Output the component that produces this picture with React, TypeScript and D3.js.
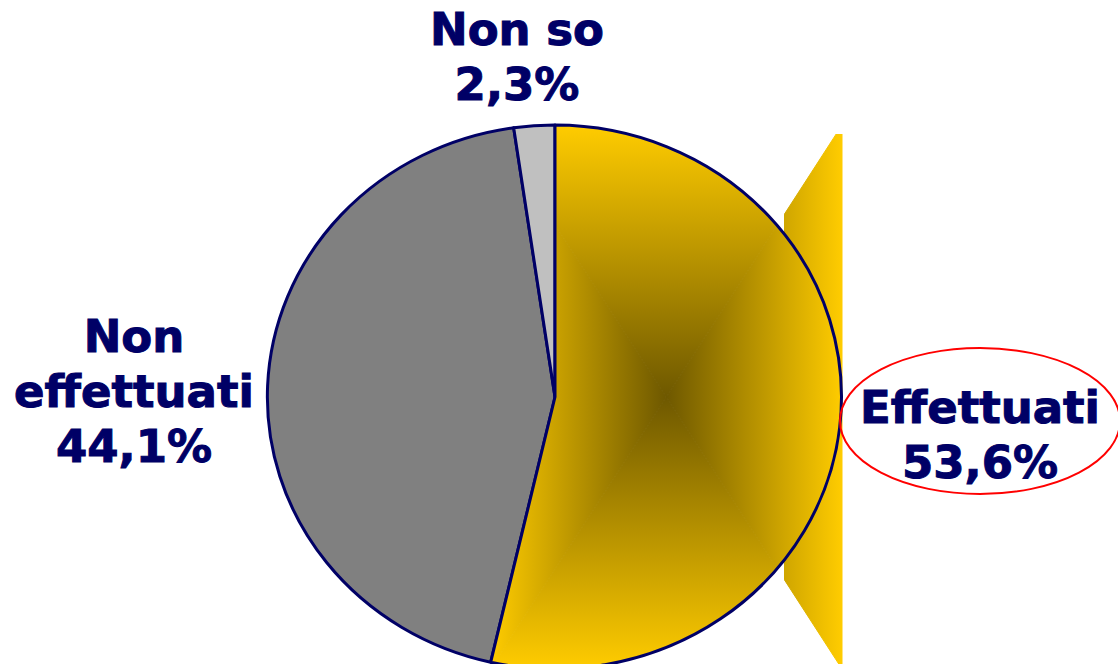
import * as d3 from "d3";

const labels = ["Effettuati", "Non effettuati", "Non so"];
const values = [53.6, 44.1, 2.3];
const colors = ["#FFCC00", "#808080", "#C0C0C0"];
const labelLines = [["Effettuati"], ["Non", "effettuati"], ["Non so"]];
const labelPos = [[980, 423], [134, 352], [517, 45]];

const W = 1118;
const H = 664;
const cx = 555;
const cy = 397;
const rx = 287;
const ry = 272;
const navy = "#000066";
const darkGold = "#6E5800";

const fmt = (v: number) => d3.format(".1f")(v).replace(".", ",") + "%";

export default function App() {
  const pie = d3.pie<number>().sort(null).startAngle(0).endAngle(2 * Math.PI);
  const arcs = pie(values);
  const arc = d3.arc<d3.PieArcDatum<number>>().innerRadius(0).outerRadius(1);
  const tf = `translate(${cx},${cy}) scale(${rx},${ry})`;

  // bounding box of the gradient slice
  const a0 = arcs[0];
  const angles = [a0.startAngle, a0.endAngle];
  for (let k = 0; k <= 4; k++) {
    const a = (k * Math.PI) / 2;
    if (a > a0.startAngle && a < a0.endAngle) angles.push(a);
  }
  const pts = angles.map(a => [cx + Math.sin(a) * rx, cy - Math.cos(a) * ry]);
  pts.push([cx, cy]);
  const [x0, x1] = d3.extent(pts, p => p[0]) as [number, number];
  const [y0, y1] = d3.extent(pts, p => p[1]) as [number, number];
  const gx = (x0 + x1) / 2;
  const gy = (y0 + y1) / 2;
  const spill = x1 - (x1 - gx) * 0.33;

  const tris = [
    { id: "gT", pts: [[x0, y0], [x1, y0], [gx, gy]], g: [gx, y0, gx, gy] },
    { id: "gB", pts: [[x0, y1], [x1, y1], [gx, gy]], g: [gx, y1, gx, gy] },
    { id: "gL", pts: [[x0, y0], [x0, y1], [gx, gy]], g: [x0, gy, gx, gy] },
    { id: "gR", pts: [[x1, y0], [x1, y1], [gx, gy]], g: [x1, gy, gx, gy] },
  ];

  return (
    <svg width={W} height={H} style={{ position: "absolute", left: 0, top: 0 }}>
      <defs>
        {tris.map(t => (
          <linearGradient key={t.id} id={t.id} gradientUnits="userSpaceOnUse"
            x1={t.g[0]} y1={t.g[1]} x2={t.g[2]} y2={t.g[3]}>
            <stop offset="0" stopColor={colors[0]} />
            <stop offset="1" stopColor={darkGold} />
          </linearGradient>
        ))}
        <clipPath id="clipSlice">
          <path d={arc(a0) ?? ""} transform={tf} />
        </clipPath>
        <clipPath id="clipSpill">
          <path d={arc(a0) ?? ""} transform={tf} />
          <rect x={spill} y={y0 + 9} width={W - spill} height={y1 - y0 - 9} />
        </clipPath>
      </defs>

      {arcs.slice(1).map((d, i) => (
        <path key={i} d={arc(d) ?? ""} transform={tf} fill={colors[i + 1]}
          stroke={navy} strokeWidth={3} vectorEffect="non-scaling-stroke" strokeLinejoin="round" />
      ))}

      {tris.map(t => (
        <polygon key={t.id} points={t.pts.map(p => p.join(",")).join(" ")}
          fill={`url(#${t.id})`} stroke={`url(#${t.id})`} strokeWidth={1}
          clipPath={t.id === "gR" ? "url(#clipSpill)" : "url(#clipSlice)"} />
      ))}
      <path d={arc(a0) ?? ""} transform={tf} fill="none" stroke={navy} strokeWidth={3}
        vectorEffect="non-scaling-stroke" strokeLinejoin="round" />

      <ellipse cx={980} cy={421} rx={140} ry={73} fill="none" stroke="#FF0000" strokeWidth={2} />

      {labels.map((name, i) => {
        const lines = [...labelLines[i], fmt(values[i])];
        return (
          <text key={name} x={labelPos[i][0]} y={labelPos[i][1]} textAnchor="middle"
            fontFamily="'DejaVu Sans', Verdana, sans-serif" fontWeight="bold" fontSize={45}
            fill={navy} stroke={navy} strokeWidth={1}>
            {lines.map((l, j) => (
              <tspan key={j} x={labelPos[i][0]} dy={j === 0 ? 0 : 55}>{l}</tspan>
            ))}
          </text>
        );
      })}
    </svg>
  );
}
